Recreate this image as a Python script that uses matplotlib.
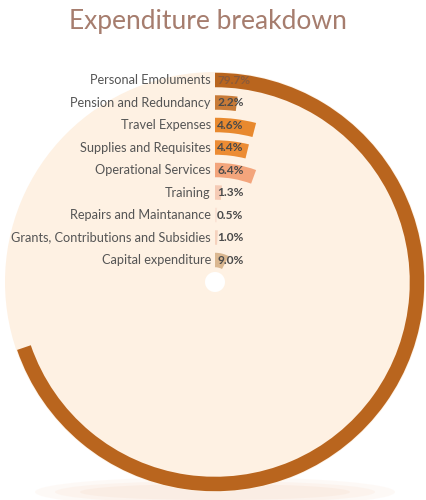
import matplotlib.pyplot as plt
import numpy as np
from matplotlib.patches import Ellipse

# expenditure shares, outermost ring first
categories = ["Personal Emoluments", "Pension and Redundancy", "Travel Expenses",
              "Supplies and Requisites", "Operational Services", "Training",
              "Repairs and Maintanance", "Grants, Contributions and Subsidies",
              "Capital expenditure"]
shares = [79.7, 2.2, 4.6, 4.4, 6.4, 1.3, 0.5, 1.0, 9.0]
share_labels = ["79.7%", "2.2%", "4.6%", "4.4%", "6.4%", "1.3%", "0.5%", "1.0%", "9.0%"]

colors = ["#B9651E", "#C87B38", "#E8892E", "#EC8C34", "#F3A57C",
          "#F5CBB5", "#FAE2D4", "#F5D2BE", "#DAB790"]
pct_colors = ["#8A5A3A"] + ["#4A4A4A"] * 8

deg_per_pct = 3.15   # angular scale of the rings
r_outer = 202
r_step = 22.5
thick = 14.5

fig = plt.figure(figsize=(4.27, 5), dpi=100)
fig.patch.set_facecolor("white")

# soft shadow under the disc
for w, h, a in [(360, 30, 0.12), (320, 22, 0.14), (270, 16, 0.18)]:
    fig.patches.append(Ellipse((215 / 427, 8 / 500), w / 427, h / 500,
                               transform=fig.transFigure, color="#F6D3BC",
                               alpha=a, lw=0, zorder=-5))

ax = fig.add_axes([5 / 427, 8 / 500, 420 / 427, 420 / 500], projection="polar")
ax.set_theta_zero_location("N")
ax.set_theta_direction(-1)
ax.set_ylim(0, 210)
ax.set_facecolor("#FEF1E3")
ax.grid(False)
ax.set_xticks([])
ax.set_yticks([])
ax.spines["polar"].set_visible(False)

radii = r_outer - r_step * np.arange(len(shares))
ax.barh(radii, np.deg2rad(np.array(shares) * deg_per_pct), left=0,
        height=thick, color=colors, align="center")

# white hub in the middle
t = np.linspace(0, 2 * np.pi, 100)
ax.fill(t, np.full_like(t, 10), color="white", lw=0, zorder=3)

for r, name, lab, c in zip(radii, categories, share_labels, pct_colors):
    ax.annotate(name, xy=(0, r), xytext=(-3, 0), textcoords="offset points",
                ha="right", va="center", fontsize=9.2, color="#555555",
                family="Lato")
    ax.annotate(lab, xy=(0, r), xytext=(1.5, 0), textcoords="offset points",
                ha="left", va="center", fontsize=8.6, color=c,
                fontweight="bold", family="Lato")

fig.text(0.488, 0.956, "Expenditure breakdown", ha="center", va="center",
         fontsize=19, color="#A67D6E", family="Lato")

fig.savefig("out.png", dpi=100)
